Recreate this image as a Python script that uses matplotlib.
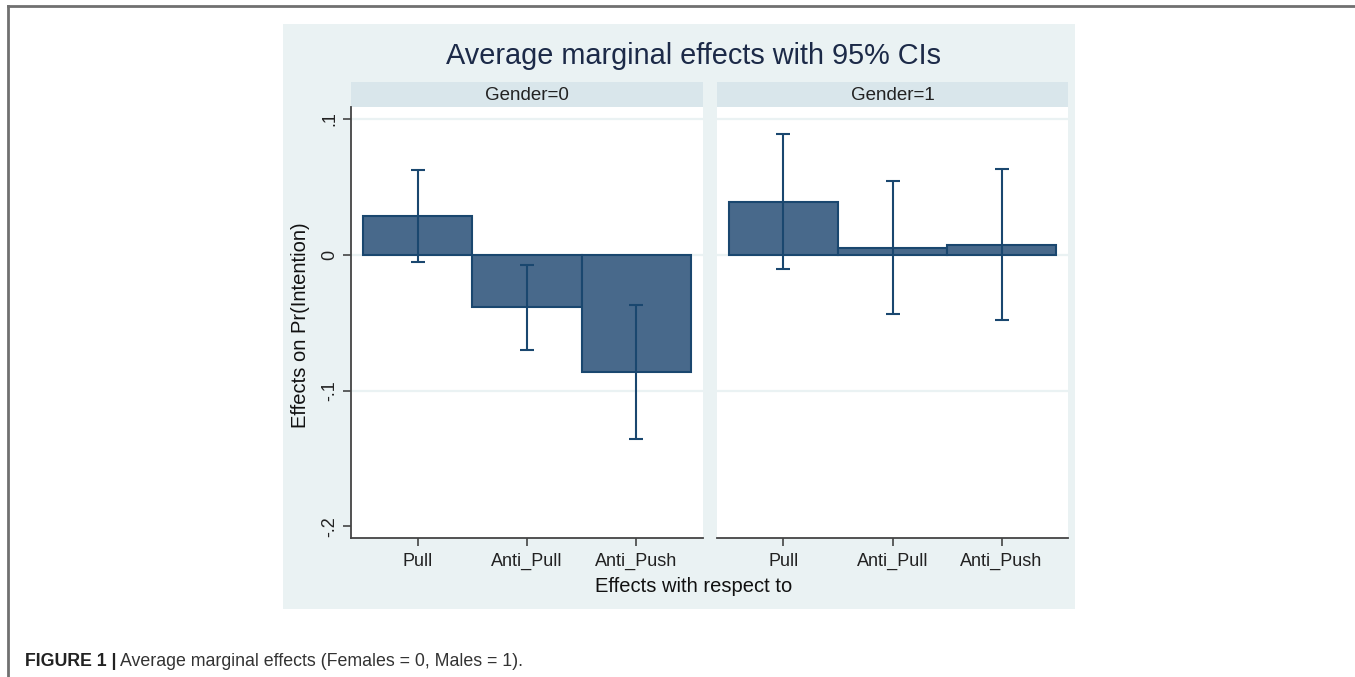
import matplotlib

matplotlib.use("Agg")
import matplotlib.pyplot as plt
from matplotlib.lines import Line2D
from matplotlib.patches import Rectangle
import numpy as np

# values
categories = ["Pull", "Anti_Pull", "Anti_Push"]
panel_titles = ["Gender=0", "Gender=1"]
g0_effect = [0.0284, -0.0385, -0.0863]
g0_lo = [-0.0051, -0.0701, -0.1360]
g0_hi = [0.0625, -0.0074, -0.0373]
g1_effect = [0.0387, 0.0046, 0.0071]
g1_lo = [-0.0108, -0.0437, -0.0481]
g1_hi = [0.0892, 0.0544, 0.0632]
y_ticks = [0.1, 0.0, -0.1, -0.2]
y_ticklabels = [".1", "0", "-.1", "-.2"]

W, H = 1355, 677
BG = "#eaf2f3"
STRIP = "#d9e6eb"
NAVY = "#1a476f"
FILL = "#48698b"
FONT = "Liberation Sans"

plt.rcParams["font.family"] = [FONT, "DejaVu Sans"]

fig = plt.figure(figsize=(W / 100, H / 100), dpi=100)
fig.patch.set_facecolor("white")


def fx(px):
    return px / W


def fy(py):
    return 1 - py / H


def rect(x0, y0, x1, y1, color):
    fig.patches.append(Rectangle((fx(x0), fy(y1)), fx(x1) - fx(x0), fy(y0) - fy(y1),
                                 transform=fig.transFigure, facecolor=color,
                                 edgecolor="none", zorder=-2))


# outer frame of the page
fig.lines.append(Line2D([fx(8), fx(W)], [fy(6), fy(6)], transform=fig.transFigure,
                        color="#707070", lw=2, zorder=-2))
fig.lines.append(Line2D([fx(8), fx(8)], [fy(6), fy(H)], transform=fig.transFigure,
                        color="#707070", lw=2, zorder=-2))

# stata graph region
rect(283, 24, 1075, 609, BG)

panels = [
    (351, 703, g0_effect, g0_lo, g0_hi),
    (717, 1068, g1_effect, g1_lo, g1_hi),
]
top, bottom = 107, 538
x = np.arange(1, len(categories) + 1)

for i, (x0, x1, eff, lo, hi) in enumerate(panels):
    rect(x0, 82, x1, top, STRIP)
    fig.text(fx((x0 + x1) / 2), fy(96), panel_titles[i], ha="center", va="center",
             fontsize=13.5, color="#222222")

    ax = fig.add_axes([fx(x0), fy(bottom), fx(x1) - fx(x0), fy(top) - fy(bottom)])
    ax.set_facecolor("white")
    eff = np.array(eff)
    lo = np.array(lo)
    hi = np.array(hi)
    ax.bar(x, eff, width=1.0, color=FILL, edgecolor=NAVY, linewidth=1.5, zorder=2)
    ax.errorbar(x, eff, yerr=[eff - lo, hi - eff], fmt="none", ecolor=NAVY,
                elinewidth=1.5, capsize=5, capthick=1.5, zorder=3)

    for yv in y_ticks[:3]:
        ax.axhline(yv, color=BG, lw=1.6, zorder=1)

    ax.set_xlim(0.39, 3.61)
    ax.set_ylim(-0.2086, 0.1088)
    ax.set_xticks(x)
    ax.set_xticklabels(categories, fontsize=13, color="#222222")
    ax.tick_params(axis="x", length=6, width=1.2, color="#444444", pad=5)
    for s in ["top", "right"]:
        ax.spines[s].set_visible(False)
    ax.spines["bottom"].set_color("#444444")
    ax.spines["bottom"].set_linewidth(1.3)
    if i == 0:
        ax.set_yticks(y_ticks)
        ax.set_yticklabels(y_ticklabels, fontsize=13, rotation=90, va="center",
                           color="#222222")
        ax.tick_params(axis="y", length=6, width=1.2, color="#444444", pad=3)
        ax.spines["left"].set_color("#444444")
        ax.spines["left"].set_linewidth(1.3)
    else:
        ax.set_yticks([])
        ax.spines["left"].set_visible(False)

fig.text(fx(694), fy(56), "Average marginal effects with 95% CIs", ha="center",
         va="center", fontsize=20.8, color="#1c2a48")
fig.text(fx(694), fy(587), "Effects with respect to", ha="center", va="center",
         fontsize=14.5, color="#111111")
fig.text(fx(300), fy(325), "Effects on Pr(Intention)", ha="center", va="center",
         rotation=90, fontsize=14.5, color="#111111")

# caption
cap = fig.text(fx(25), fy(661), "FIGURE 1 |", ha="left", va="center", fontsize=12.8,
               fontweight="bold", color="#222222")
fig.canvas.draw()
bb = cap.get_window_extent()
fig.text(fx(bb.x1 + 4), fy(661), "Average marginal effects (Females = 0, Males = 1).",
         ha="left", va="center", fontsize=12.8, color="#333333")

fig.savefig("out.png", dpi=100)
